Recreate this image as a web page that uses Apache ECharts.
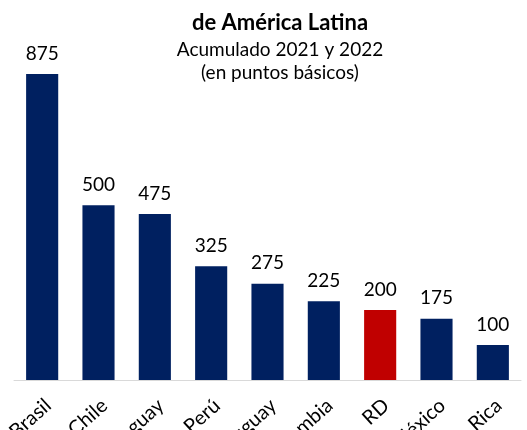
<!DOCTYPE html>
<html><head><meta charset="utf-8">
<script src="https://cdn.jsdelivr.net/npm/echarts@6/dist/echarts.min.js"></script>
<style>html,body{margin:0;padding:0;background:#fff}#c{width:527px;height:430px}</style>
</head><body><div id="c"></div>
<script>
var categories = ['Brasil','Chile','Paraguay','Perú','Uruguay','Colombia','RD','México','Costa Rica'];
var values = [875,500,475,325,275,225,200,175,100];
var highlight = 'RD';
var navy = '#002060', red = '#C00000';
var font = 'Lato';
var chart = echarts.init(document.getElementById('c'), null, {renderer:'canvas'});
chart.setOption({
  animation:false,
  title:{
    text:'de América Latina',
    subtext:'Acumulado 2021 y 2022\n(en puntos básicos)',
    left:275, textAlign:'center', top:5, itemGap:3,
    textStyle:{fontFamily:font,fontWeight:'bold',fontSize:22,color:'#000',lineHeight:25},
    subtextStyle:{fontFamily:font,fontSize:19,color:'#000',lineHeight:23}
  },
  grid:{left:14,right:6,top:74,bottom:50,containLabel:false,outerBoundsMode:'none'},
  xAxis:{
    type:'category', data:categories,
    axisLine:{lineStyle:{color:'#d9d9d9',width:1}},
    axisTick:{show:false},
    axisLabel:{interval:0,rotate:42,margin:28,fontFamily:font,fontSize:20,color:'#000',padding:[0,-8,0,0]}
  },
  yAxis:{type:'value',min:0,max:875,show:false,splitLine:{show:false}},
  series:[{
    type:'bar', barWidth:'57%',
    data:values.map(function(v,i){return {value:v,itemStyle:{color:categories[i]===highlight?red:navy}};}),
    label:{show:true,position:'top',distance:11,fontFamily:font,fontSize:19,color:'#000'}
  }]
});
</script></body></html>
